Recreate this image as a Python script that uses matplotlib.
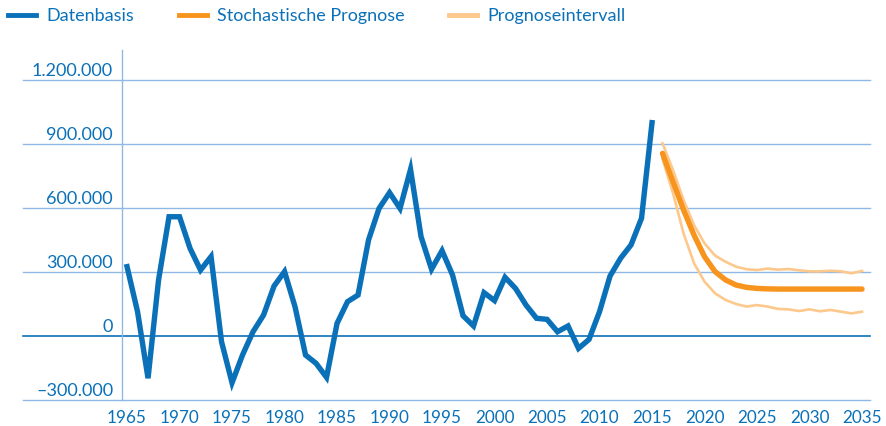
import matplotlib.pyplot as plt
import matplotlib.transforms as mtransforms
from matplotlib.lines import Line2D

# historical data (Datenbasis)
years_hist = list(range(1965, 2016))
values_hist = [325000, 114000, -198000, 262000, 559000, 559000, 411000, 309000, 372000, -27000,
               -219000, -89000, 20000, 98000, 234000, 302000, 137000, -89000, -128000, -194000,
               59000, 161000, 192000, 450000, 598000, 672000, 598000, 781000, 466000, 313000,
               400000, 286000, 95000, 47000, 203000, 166000, 275000, 223000, 145000, 83000,
               78000, 20000, 47000, -58000, -16000, 114000, 281000, 364000, 427000, 552000,
               1000000]

# forecast
years_fc = list(range(2016, 2036))
values_fc = [856000, 723000, 591000, 473000, 372000, 302000, 263000, 239000, 228000, 223000,
             221000, 220000, 220000, 220000, 220000, 220000, 220000, 220000, 220000, 220000]
upper_fc = [903000, 778000, 638000, 520000, 434000, 377000, 348000, 325000, 313000, 309000,
            316000, 311000, 314000, 308000, 303000, 303000, 306000, 303000, 294000, 305000]
lower_fc = [830000, 669000, 481000, 341000, 255000, 200000, 169000, 150000, 138000, 145000,
            138000, 127000, 125000, 117000, 125000, 116000, 122000, 114000, 106000, 114000]

yticks = [-300000, 0, 300000, 600000, 900000, 1200000]
ytick_labels = ['–300.000', '0', '300.000', '600.000', '900.000', '1.200.000']
xticks = list(range(1965, 2036, 5))

blue = '#0A71B9'
orange = '#F7941D'
light_orange = '#FDC88C'
grid_blue = '#8FB8E4'

plt.rcParams['font.family'] = ['Lato', 'DejaVu Sans']

fig = plt.figure(figsize=(8.86, 4.26), dpi=100)
ax = fig.add_axes([122 / 886, 26 / 426, 748 / 886, 350 / 426])

# gridlines reaching out under the tick labels
for t in yticks:
    c = blue if t == 0 else grid_blue
    lw = 1.2 if t == 0 else 1.0
    ax.axhline(t, xmin=-0.132, xmax=1.0, color=c, linewidth=lw, clip_on=False, zorder=1)

ax.plot(years_hist, values_hist, color=blue, linewidth=3.9, solid_joinstyle='miter', zorder=3)
ax.plot(years_fc, upper_fc, color=light_orange, linewidth=1.9, zorder=2)
ax.plot(years_fc, lower_fc, color=light_orange, linewidth=1.9, zorder=2)
ax.plot(years_fc, values_fc, color=orange, linewidth=3.9, solid_capstyle='round', zorder=3)

ax.set_xlim(1964.52, 2035.76)
ax.set_ylim(-300000, 1340625)

for s in ['top', 'right', 'bottom']:
    ax.spines[s].set_visible(False)
ax.spines['left'].set_color(grid_blue)
ax.spines['left'].set_linewidth(1.0)

ax.set_xticks(xticks)
ax.tick_params(axis='x', length=0, pad=7, labelsize=12.3, labelcolor=blue)
ax.set_yticks([])

# y labels sit above their gridlines
offset = mtransforms.ScaledTranslation(0, 4 / 100, fig.dpi_scale_trans)
trans = mtransforms.blended_transform_factory(ax.transAxes, ax.transData) + offset
for t, lab in zip(yticks, ytick_labels):
    ax.text(-0.012, t, lab, transform=trans, ha='right', va='baseline', fontsize=13, color=blue)

handles = [Line2D([], [], color=blue, linewidth=3.5),
           Line2D([], [], color=orange, linewidth=3.5),
           Line2D([], [], color=light_orange, linewidth=3.5)]
fig.legend(handles, ['Datenbasis', 'Stochastische Prognose', 'Prognoseintervall'],
           loc='center left', bbox_to_anchor=(8 / 886, 1 - 16 / 426), ncol=3, frameon=False,
           fontsize=13, labelcolor=blue, handlelength=1.55, handletextpad=0.55,
           columnspacing=2.5, borderpad=0, borderaxespad=0)

plt.savefig('out.png', dpi=100)
